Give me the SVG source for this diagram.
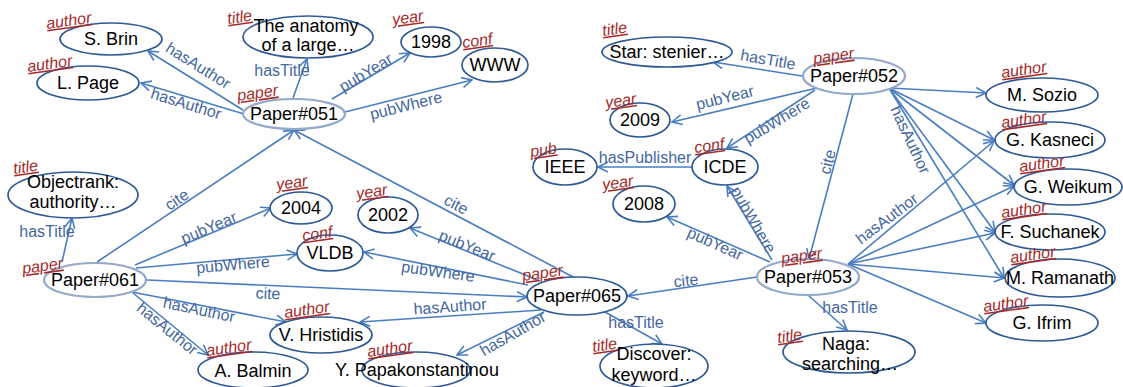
<svg xmlns="http://www.w3.org/2000/svg" width="1123" height="387" viewBox="0 0 1123 387">
<style>
.e{stroke:#4A7EC0;stroke-width:1.6;fill:none;marker-end:url(#a)}
.el{font-family:"Liberation Sans",Arial,sans-serif;font-size:16px;fill:#4568A0;text-anchor:middle}
.n{fill:#fff;stroke:#2F5A96;stroke-width:1.7}
.p{fill:#fff;stroke:#95A9CB;stroke-width:2.2}
.nt{font-family:"Liberation Sans",Arial,sans-serif;font-size:18px;fill:#000;text-anchor:middle}
.t{font-family:"Liberation Sans",Arial,sans-serif;font-size:16px;font-style:italic;fill:#A52A2A;text-decoration:underline}
</style>
<defs>
<marker id="a" viewBox="0 0 12 12" refX="11" refY="6" markerWidth="12" markerHeight="12" markerUnits="userSpaceOnUse" orient="auto">
<path d="M1,1 L11,6 L1,11" fill="none" stroke="#4A7EC0" stroke-width="1.6"/>
</marker>
</defs>
<g id="connectors">
<line class="e" x1="243" y1="110" x2="148" y2="51"/>
<text class="el" transform="translate(198,66) rotate(32)" y="5">hasAuthor</text>
<line class="e" x1="244" y1="114" x2="141" y2="83"/>
<text class="el" transform="translate(186,104) rotate(17)" y="5">hasAuthor</text>
<line class="e" x1="293" y1="98" x2="307" y2="59"/>
<text class="el" x="282" y="76">hasTitle</text>
<line class="e" x1="332" y1="99" x2="410" y2="53"/>
<text class="el" transform="translate(366,73) rotate(-31)" y="5">pubYear</text>
<line class="e" x1="345" y1="112" x2="472" y2="80"/>
<text class="el" transform="translate(406,106) rotate(-14)" y="5">pubWhere</text>
<line class="e" x1="97" y1="262" x2="294" y2="130"/>
<text class="el" transform="translate(177,200) rotate(-34)" y="5">cite</text>
<line class="e" x1="575" y1="278" x2="294" y2="130"/>
<text class="el" transform="translate(456,205) rotate(28)" y="5">cite</text>
<line class="e" x1="62" y1="262" x2="72" y2="218"/>
<text class="el" x="47" y="237">hasTitle</text>
<line class="e" x1="135" y1="265" x2="271" y2="208"/>
<text class="el" transform="translate(209,228) rotate(-23)" y="5">pubYear</text>
<line class="e" x1="136" y1="268" x2="297" y2="254"/>
<text class="el" transform="translate(233,265) rotate(-5)" y="5">pubWhere</text>
<line class="e" x1="147" y1="280" x2="527" y2="297"/>
<text class="el" transform="translate(268,294) rotate(2)" y="5">cite</text>
<line class="e" x1="132" y1="292" x2="286" y2="322"/>
<text class="el" transform="translate(199,310) rotate(12)" y="5">hasAuthor</text>
<line class="e" x1="133" y1="293" x2="208" y2="355"/>
<text class="el" transform="translate(167,329) rotate(39)" y="5">hasAuthor</text>
<line class="e" x1="540" y1="281" x2="410" y2="228"/>
<text class="el" transform="translate(467,246) rotate(22)" y="5">pubYear</text>
<line class="e" x1="528" y1="285" x2="364" y2="252"/>
<text class="el" transform="translate(438,272) rotate(8)" y="5">pubWhere</text>
<line class="e" x1="541" y1="310" x2="360" y2="322"/>
<text class="el" transform="translate(450,307) rotate(-4)" y="5">hasAuthor</text>
<line class="e" x1="544" y1="312" x2="457" y2="355"/>
<text class="el" transform="translate(513,334) rotate(-30)" y="5">hasAuthor</text>
<line class="e" x1="605" y1="312" x2="662" y2="344"/>
<text class="el" x="636" y="328">hasTitle</text>
<line class="e" x1="802" y1="76" x2="713" y2="62"/>
<text class="el" transform="translate(768,60) rotate(10)" y="5">hasTitle</text>
<line class="e" x1="817" y1="88" x2="672" y2="122"/>
<text class="el" transform="translate(725,98) rotate(-14)" y="5">pubYear</text>
<line class="e" x1="815" y1="90" x2="727" y2="148"/>
<text class="el" transform="translate(777,121) rotate(-31)" y="5">pubWhere</text>
<line class="e" x1="692" y1="167" x2="598" y2="167"/>
<text class="el" x="645" y="163">hasPublisher</text>
<line class="e" x1="853" y1="94" x2="809" y2="259"/>
<text class="el" transform="translate(828,162) rotate(-76)" y="5">cite</text>
<line class="e" x1="889" y1="88" x2="986" y2="93"/>
<line class="e" x1="889" y1="88" x2="994" y2="140"/>
<line class="e" x1="889" y1="88" x2="1014" y2="185"/>
<line class="e" x1="889" y1="88" x2="995" y2="232"/>
<line class="e" x1="889" y1="88" x2="1004" y2="278"/>
<text class="el" transform="translate(910,140) rotate(65)" y="5">hasAuthor</text>
<line class="e" x1="770" y1="262" x2="667" y2="217"/>
<text class="el" transform="translate(715,244) rotate(24)" y="5">pubYear</text>
<line class="e" x1="772" y1="260" x2="727" y2="186"/>
<text class="el" transform="translate(753,220) rotate(60)" y="5">pubWhere</text>
<line class="e" x1="757" y1="277" x2="628" y2="296"/>
<text class="el" transform="translate(686,281) rotate(-6)" y="5">cite</text>
<line class="e" x1="808" y1="295" x2="847" y2="330"/>
<text class="el" x="850" y="313">hasTitle</text>
<line class="e" x1="848" y1="264" x2="994" y2="141"/>
<line class="e" x1="848" y1="264" x2="1014" y2="186"/>
<line class="e" x1="848" y1="264" x2="995" y2="233"/>
<line class="e" x1="848" y1="264" x2="1004" y2="278"/>
<line class="e" x1="848" y1="264" x2="986" y2="323"/>
<text class="el" transform="translate(887,219) rotate(-37)" y="5">hasAuthor</text>
</g>
<g id="n-brin"><ellipse class="n" cx="111" cy="39" rx="51" ry="16"/><text class="nt" x="111" y="45">S. Brin</text><text class="t" transform="rotate(-8 47 29)" x="47" y="29">author</text></g>
<g id="n-page"><ellipse class="n" cx="88" cy="83" rx="51" ry="17"/><text class="nt" x="88" y="89">L. Page</text><text class="t" transform="rotate(-8 28 72)" x="28" y="72">author</text></g>
<g id="n-anatomy"><ellipse class="n" cx="308" cy="37" rx="65" ry="21"/><text class="nt" x="306" y="32">The anatomy</text><text class="nt" x="308" y="51">of a large…</text><text class="t" transform="rotate(-8 228 24)" x="228" y="24">title</text></g>
<g id="n-1998"><ellipse class="n" cx="431" cy="42" rx="30" ry="15"/><text class="nt" x="431" y="48">1998</text><text class="t" transform="rotate(-8 393 25)" x="393" y="25">year</text></g>
<g id="n-www"><ellipse class="n" cx="495" cy="65" rx="33" ry="17"/><text class="nt" x="495" y="71">WWW</text><text class="t" transform="rotate(-8 463 48)" x="463" y="48">conf</text></g>
<g id="n-p051"><ellipse class="p" cx="294" cy="114" rx="51" ry="15"/><text class="nt" x="294" y="120">Paper#051</text><text class="t" transform="rotate(-8 238 101)" x="238" y="101">paper</text></g>
<g id="n-objectrank"><ellipse class="n" cx="73" cy="195" rx="65" ry="23"/><text class="nt" x="73" y="188">Objectrank:</text><text class="nt" x="73" y="208">authority…</text><text class="t" transform="rotate(-8 14 174)" x="14" y="174">title</text></g>
<g id="n-p061"><ellipse class="p" cx="95" cy="280" rx="51" ry="17"/><text class="nt" x="95" y="286">Paper#061</text><text class="t" transform="rotate(-8 23 274)" x="23" y="274">paper</text></g>
<g id="n-2004"><ellipse class="n" cx="301" cy="208" rx="31" ry="16"/><text class="nt" x="301" y="214">2004</text><text class="t" transform="rotate(-8 277 190)" x="277" y="190">year</text></g>
<g id="n-vldb"><ellipse class="n" cx="330" cy="253" rx="33" ry="18"/><text class="nt" x="330" y="259">VLDB</text><text class="t" transform="rotate(-8 303 241)" x="303" y="241">conf</text></g>
<g id="n-2002"><ellipse class="n" cx="388" cy="215" rx="30" ry="18"/><text class="nt" x="388" y="221">2002</text><text class="t" transform="rotate(-8 357 199)" x="357" y="199">year</text></g>
<g id="n-p065"><ellipse class="n" cx="577" cy="296" rx="50" ry="19"/><text class="nt" x="577" y="302">Paper#065</text><text class="t" transform="rotate(-8 523 281)" x="523" y="281">paper</text></g>
<g id="n-hristidis"><ellipse class="n" cx="321" cy="335" rx="51" ry="18"/><text class="nt" x="321" y="341">V. Hristidis</text><text class="t" transform="rotate(-8 285 318)" x="285" y="318">author</text></g>
<g id="n-balmin"><ellipse class="n" cx="253" cy="370" rx="55" ry="18"/><text class="nt" x="253" y="377">A. Balmin</text><text class="t" transform="rotate(-8 207 356)" x="207" y="356">author</text></g>
<g id="n-papak"><ellipse class="n" cx="416" cy="370" rx="54" ry="18"/><text class="nt" x="417" y="376">Y. Papakonstantinou</text><text class="t" transform="rotate(-8 368 357)" x="368" y="357">author</text></g>
<g id="n-discover"><ellipse class="n" cx="654" cy="366" rx="54" ry="22"/><text class="nt" x="654" y="360">Discover:</text><text class="nt" x="654" y="381">keyword…</text><text class="t" transform="rotate(-8 593 352)" x="593" y="352">title</text></g>
<g id="n-star"><ellipse class="n" cx="667" cy="52" rx="65" ry="15"/><text class="nt" x="667" y="58">Star: stenier…</text><text class="t" transform="rotate(-8 603 36)" x="603" y="36">title</text></g>
<g id="n-p052"><ellipse class="p" cx="854" cy="76" rx="51" ry="18"/><text class="nt" x="854" y="82">Paper#052</text><text class="t" transform="rotate(-8 814 64)" x="814" y="64">paper</text></g>
<g id="n-2009"><ellipse class="n" cx="640" cy="120" rx="30" ry="17"/><text class="nt" x="640" y="126">2009</text><text class="t" transform="rotate(-8 606 108)" x="606" y="108">year</text></g>
<g id="n-ieee"><ellipse class="n" cx="565" cy="167" rx="32" ry="18"/><text class="nt" x="565" y="173">IEEE</text><text class="t" transform="rotate(-8 531 157)" x="531" y="157">pub</text></g>
<g id="n-icde"><ellipse class="n" cx="725" cy="167" rx="33" ry="18"/><text class="nt" x="725" y="173">ICDE</text><text class="t" transform="rotate(-8 695 153)" x="695" y="153">conf</text></g>
<g id="n-2008"><ellipse class="n" cx="644" cy="204" rx="31" ry="18"/><text class="nt" x="644" y="210">2008</text><text class="t" transform="rotate(-8 603 190)" x="603" y="190">year</text></g>
<g id="n-p053"><ellipse class="p" cx="808" cy="277" rx="51" ry="18"/><text class="nt" x="808" y="283">Paper#053</text><text class="t" transform="rotate(-8 782 264)" x="782" y="264">paper</text></g>
<g id="n-naga"><ellipse class="n" cx="849" cy="352" rx="66" ry="21"/><text class="nt" x="846" y="350">Naga:</text><text class="nt" x="850" y="370">searching…</text><text class="t" transform="rotate(-8 778 343)" x="778" y="343">title</text></g>
<g id="n-sozio"><ellipse class="n" cx="1042" cy="95" rx="56" ry="17"/><text class="nt" x="1042" y="101">M. Sozio</text><text class="t" transform="rotate(-8 1002 78)" x="1002" y="78">author</text></g>
<g id="n-kasneci"><ellipse class="n" cx="1050" cy="140" rx="55" ry="18"/><text class="nt" x="1050" y="146">G. Kasneci</text><text class="t" transform="rotate(-8 1002 128)" x="1002" y="128">author</text></g>
<g id="n-weikum"><ellipse class="n" cx="1068" cy="187" rx="54" ry="18"/><text class="nt" x="1068" y="193">G. Weikum</text><text class="t" transform="rotate(-8 1020 172)" x="1020" y="172">author</text></g>
<g id="n-suchanek"><ellipse class="n" cx="1050" cy="232" rx="55" ry="18"/><text class="nt" x="1050" y="238">F. Suchanek</text><text class="t" transform="rotate(-8 1002 218)" x="1002" y="218">author</text></g>
<g id="n-ramanath"><ellipse class="n" cx="1060" cy="278" rx="55" ry="19"/><text class="nt" x="1060" y="284">M. Ramanath</text><text class="t" transform="rotate(-8 1011 263)" x="1011" y="263">author</text></g>
<g id="n-ifrim"><ellipse class="n" cx="1042" cy="323" rx="56" ry="18"/><text class="nt" x="1042" y="329">G. Ifrim</text><text class="t" transform="rotate(-8 984 312)" x="984" y="312">author</text></g>
</svg>
